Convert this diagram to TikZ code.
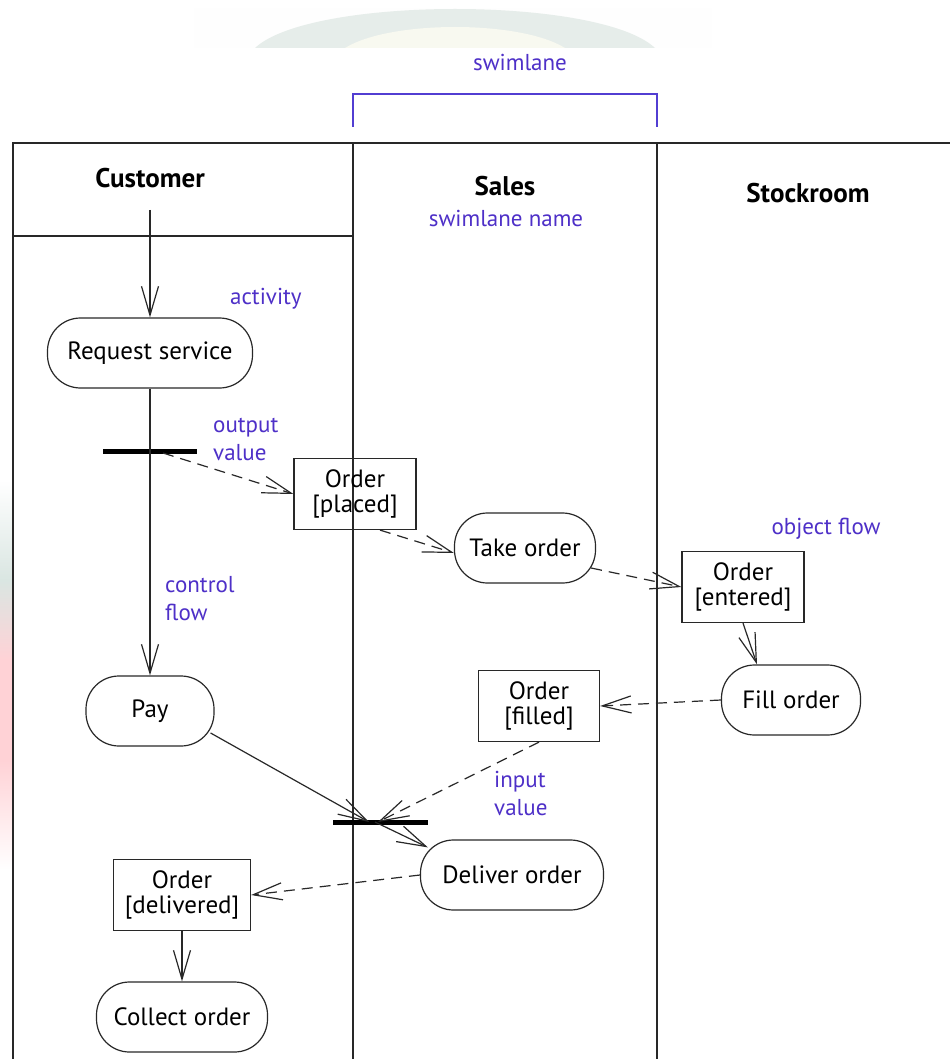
\documentclass[tikz,border=0pt]{standalone}
\usepackage{fontspec}
\setmainfont{PT Sans}
\usetikzlibrary{arrows.meta,calc}

\definecolor{lblblue}{RGB}{78,48,200}
\definecolor{brkblue}{RGB}{82,62,210}
\definecolor{linegray}{RGB}{40,40,40}
\definecolor{wmgreen}{RGB}{230,237,234}
\definecolor{wmyellow}{RGB}{248,249,240}
\definecolor{wmpink}{RGB}{255,210,214}
\definecolor{wmteal}{RGB}{218,230,226}

\tikzset{
  vee/.tip={Straight Barb[length=29pt,width=17pt]},
  lane/.style={draw=linegray, line width=1.3pt},
  act/.style={draw=linegray, line width=1.2pt, rounded corners=33pt,
    minimum height=70pt, inner sep=0pt, font=\fontsize{25}{25}\selectfont},
  obj/.style={draw=linegray, line width=1.2pt, rectangle, align=center,
    minimum height=71pt, inner sep=0pt, font=\fontsize{25}{25}\selectfont},
  bar/.style={rectangle, fill=black, minimum height=5pt, inner sep=0pt},
  head/.style={font=\fontsize{27}{27}\selectfont\bfseries},
  note/.style={text=lblblue, align=left, inner sep=0pt,
    font=\fontsize{23}{28}\selectfont},
  flow/.style={draw=linegray, line width=1.2pt, -vee},
  oflow/.style={flow, dash pattern=on 11pt off 7pt},
}

\begin{document}
\begin{tikzpicture}[x=1pt,y=-1pt]
  \useasboundingbox (0,0) rectangle (950,1059);
  \fill[white] (0,0) rectangle (950,1059);

  % faint background wash
  \fill[white!97!wmgreen] (194,8) rectangle (712,48);
  \fill[wmgreen] (255,48) .. controls (310,-4) and (600,-4) .. (655,48) -- cycle;
  \fill[wmyellow] (345,48) .. controls (390,20) and (520,20) .. (565,48) -- cycle;
  \shade[top color=white, bottom color=wmteal] (0,480) rectangle (12,580);
  \shade[top color=wmteal, bottom color=wmpink] (0,580) rectangle (12,660);
  \fill[wmpink] (0,660) rectangle (12,760);
  \shade[top color=wmpink, bottom color=white] (0,760) rectangle (12,870);

  % swimlane bracket and its labels
  \node[note] (swl) at (520,62) {swimlane};
  \draw[brkblue, line width=1.3pt] (353,127) -- (353,94) -- (657,94) -- (657,127);

  % swimlane frame
  \draw[lane] (13,1059) -- (13,143) -- (950,143);
  \draw[lane] (353,143) -- (353,1059);
  \draw[lane] (657,143) -- (657,1059);
  \draw[lane] (13,236) -- (353,236);

  \node[head] (hcust) at (150,178) {Customer};
  \node[head] (hsales) at (505,186) {Sales};
  \node[note] (swname) at (506,218) {swimlane name};
  \node[head] (hstock) at (808,193) {Stockroom};

  % activities
  \node[act, minimum width=205pt] (req) at (150,353) {Request service};
  \node[act, minimum width=128pt] (pay) at (150,711) {Pay};
  \node[act, minimum width=171pt] (collect) at (182,1017) {Collect order};
  \node[act, minimum width=141pt] (take) at (525,548) {Take order};
  \node[act, minimum width=139pt] (fill) at (791,700) {Fill order};
  \node[act, minimum width=183pt] (deliver) at (512,875) {Deliver order};

  % object nodes
  \node[obj, minimum width=122pt] (placed) at (355,494) {Order\\{[placed]}};
  \node[obj, minimum width=122pt] (entered) at (743,587) {Order\\{[entered]}};
  \node[obj, minimum width=121pt] (filled) at (539,706) {Order\\{[filled]}};
  \node[obj, minimum width=137pt] (delivered) at (182,895) {Order\\{[delivered]}};

  % fork and join bars
  \node[bar, minimum width=94pt] (fork) at (150,451) {};
  \node[bar, minimum width=95pt] (join) at (380,822) {};

  % annotations
  \node[note, anchor=west] (lact) at (230,299) {activity};
  \node[note, anchor=west] (lout) at (213,439) {output\\value};
  \node[note, anchor=west] (lctl) at (165,599) {control\\flow};
  \node[note] (lobj) at (826,529) {object flow};
  \node[note, anchor=west] (lin) at (494,793) {input\\value};

  % control and object flows
  \coordinate (start) at (150,210);
  \draw[flow] (start) -- (req.north);
  \draw[flow] (req.south) -- (pay.north);
  \draw[oflow] ($(fork.center)+(13,2)$) -- (placed.west);
  \draw[oflow] ($(placed.south)+(25,0)$) -- ($(take.west)+(0,5)$);
  \draw[oflow] ($(take.east)+(-5,20)$) -- (entered.west);
  \draw[flow] (entered.south) -- ($(fill.north)+(-34,0)$);
  \draw[oflow] (fill.west) -- (filled.east);
  \draw[oflow] (filled.south) -- ($(join.center)+(-2,0)$);
  \draw[flow] ($(pay.east)+(-4,22)$) -- ($(join.center)+(-11,0)$);
  \draw[flow] ($(join.center)+(-5,0)$) -- ($(deliver.north west)+(8,8)$);
  \draw[oflow] (deliver.west) -- (delivered.east);
  \draw[flow] (delivered.south) -- (collect.north);
\end{tikzpicture}
\end{document}
